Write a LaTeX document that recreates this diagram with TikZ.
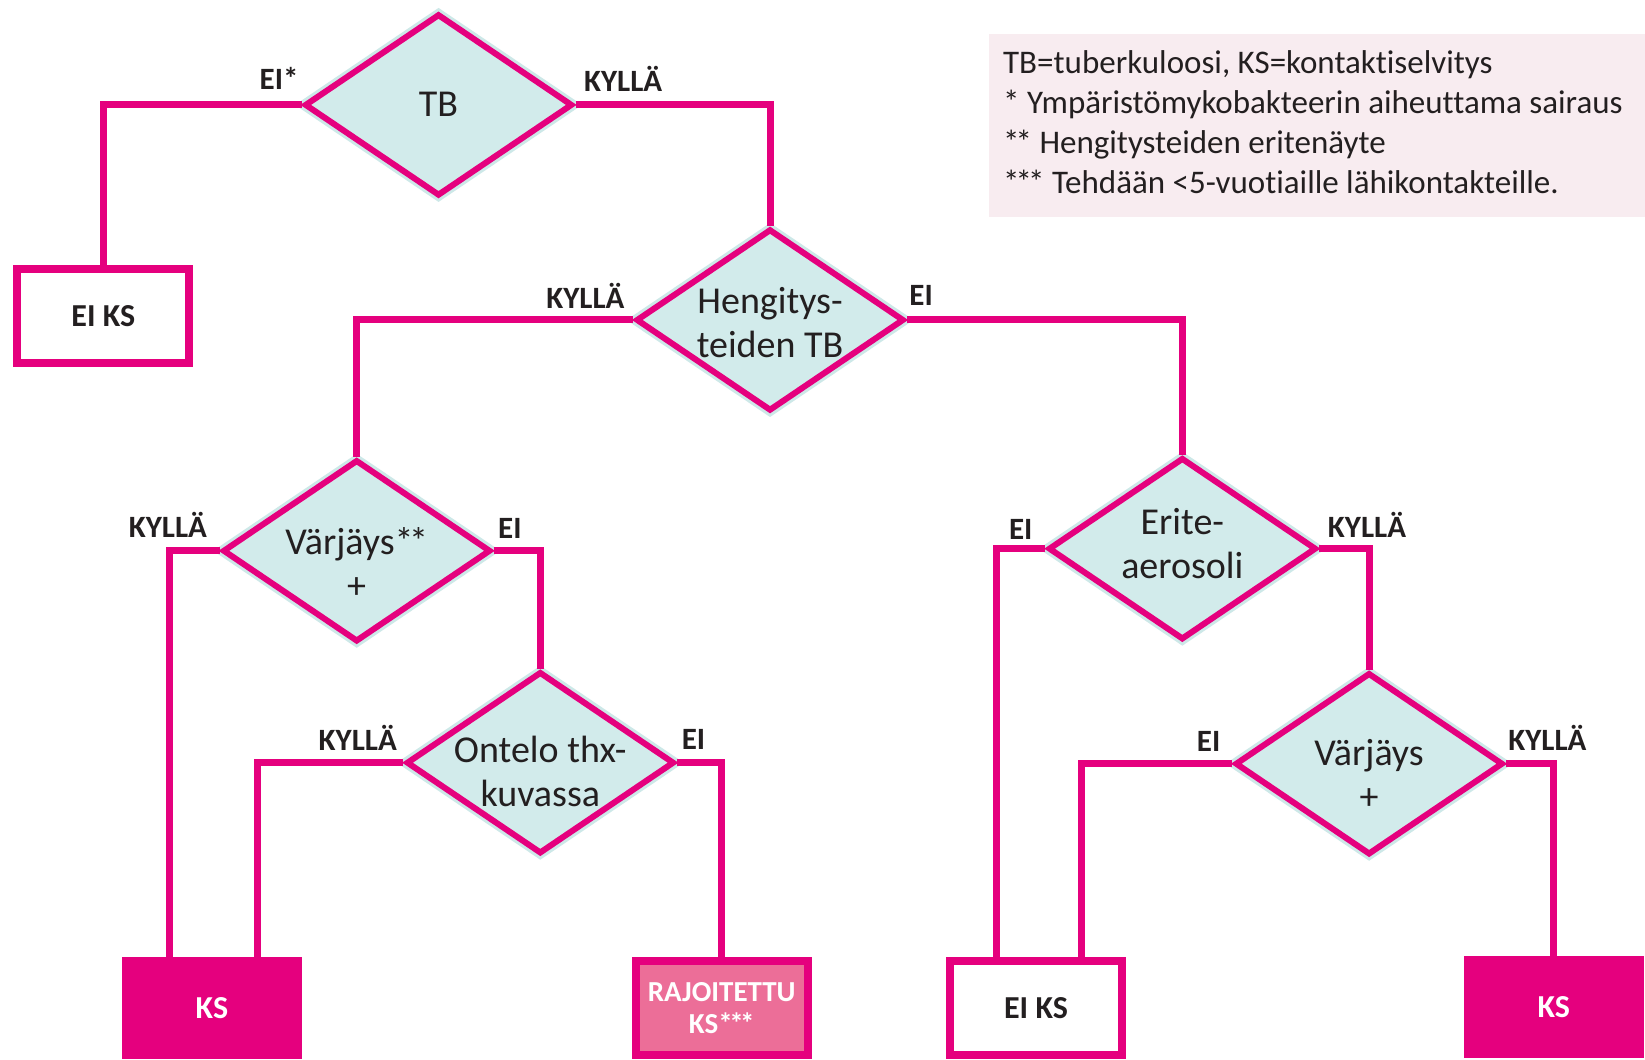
\documentclass[tikz,border=0pt]{standalone}
\usepackage{fontspec}
\setmainfont[Ligatures=NoCommon]{Carlito}
\usetikzlibrary{shapes.geometric,calc}
\definecolor{mag}{RGB}{229,0,126}
\definecolor{dfill}{RGB}{210,235,235}
\definecolor{halo}{RGB}{205,232,232}
\definecolor{rajfill}{RGB}{236,110,152}
\definecolor{legfill}{RGB}{248,236,240}
\definecolor{txt}{RGB}{35,31,32}
\newcommand\labfont{\bfseries\fontsize{31}{33}\selectfont}
\newcommand\boxfont{\bfseries\fontsize{32}{33}\selectfont}
\newcommand\rajfont{\bfseries\fontsize{29}{32}\selectfont}
\newcommand\dfont{\fontsize{38}{44}\selectfont}
\newcommand\legfont{\fontsize{33}{40}\selectfont}
\newcommand\stars[1]{\foreach \i in {1,...,#1}{*\ifnum\i<#1\kern-0.12em\fi}}
\tikzset{
  dec/.style={diamond, draw=mag, line width=6pt, fill=dfill, minimum width=268pt, minimum height=182pt, inner sep=0pt,
    preaction={draw=halo, line width=12pt}},
  dtext/.style={font=\dfont, text=txt, align=center, inner sep=0pt},
  conn/.style={draw=mag, line width=7pt},
  lab/.style={font=\labfont, text=txt, inner sep=0pt},
  boxw/.style={draw=mag, line width=8pt, fill=white, minimum width=172pt, minimum height=94pt, font=\boxfont, text=txt, align=center},
  boxm/.style={boxw, fill=mag, text=white},
  boxr/.style={boxw, fill=rajfill, text=white, font=\rajfont}
}
\begin{document}
\begin{tikzpicture}[x=1.049pt,y=-1.049pt]
\clip (0,0) rectangle (1568,1010);
\fill[white] (0,0) rectangle (1568,1010);
% legend
\fill[legfill] (943,32) rectangle (1570,207);
\node[anchor=north west, align=left, font=\legfont, text=txt, inner sep=0pt] (leg) at (956,48)
 {TB=tuberkuloosi, KS=kontaktiselvitys\\
  * Ympäristömykobakteerin aiheuttama sairaus\\
  \stars{2} Hengitysteiden eritenäyte\\
  \stars{3} Tehdään <5-vuotiaille lähikontakteille.};
% decisions
\node[dec] (tb) at (418,100) {};
\node[dec] (hen) at (734,305) {};
\node[dec] (va1) at (340,525) {};
\node[dec] (ont) at (515,727) {};
\node[dec] (eri) at (1127,523) {};
\node[dec] (va2) at (1305,728) {};
\node[dtext] at (418,99) {TB};
\node[dtext] at (734,307) {Hengitys-\\teiden TB};
\node[dtext] at (340,537) {Värjäys\stars{2}\\+};
\node[dtext] at (515,735) {Ontelo thx-\\kuvassa};
\node[dtext] at (1127,518) {Erite-\\aerosoli};
\node[dtext] at (1305,738) {Värjäys\\+};
% outcome boxes
\node[boxw] (eiks1) at (98.5,301) {EI KS};
\node[boxm] (ks1) at (202,961) {KS};
\node[boxr] (raj) at (688,961) {RAJOITETTU\\KS\stars{3}};
\node[boxw] (eiks2) at (987.5,961) {EI KS};
\node[boxm] (ks2) at (1481,960) {KS};
% connectors
\draw[conn] (tb.west) -| (eiks1.north);
\draw[conn] (tb.east) -| (hen.north);
\draw[conn] (hen.west) -| (va1.north);
\draw[conn] (hen.east) -| (eri.north);
\draw[conn] (va1.west) -| ($(ks1.north)+(-40,0)$);
\draw[conn] (va1.east) -| (ont.north);
\draw[conn] (ont.west) -| ($(ks1.north)+(43,0)$);
\draw[conn] (ont.east) -| (raj.north);
\draw[conn] (eri.west) -| ($(eiks2.north)+(-37.5,0)$);
\draw[conn] (eri.east) -| (va2.north);
\draw[conn] (va2.west) -| ($(eiks2.north)+(43.5,0)$);
\draw[conn] (va2.east) -| (ks2.north);
% labels
\node[lab] (l1) at (266,75) {EI*};
\node[lab] (l2) at (594,75) {KYLLÄ};
\node[lab] (l3) at (558,282) {KYLLÄ};
\node[lab] (l4) at (878,282) {EI};
\node[lab] (l5) at (160,500) {KYLLÄ};
\node[lab] (l6) at (486,504) {EI};
\node[lab] (l7) at (341,703) {KYLLÄ};
\node[lab] (l8) at (661,705) {EI};
\node[lab] (l9) at (973,505) {EI};
\node[lab] (l10) at (1303,500) {KYLLÄ};
\node[lab] (l11) at (1152,707) {EI};
\node[lab] (l12) at (1475,703) {KYLLÄ};
\end{tikzpicture}
\end{document}
